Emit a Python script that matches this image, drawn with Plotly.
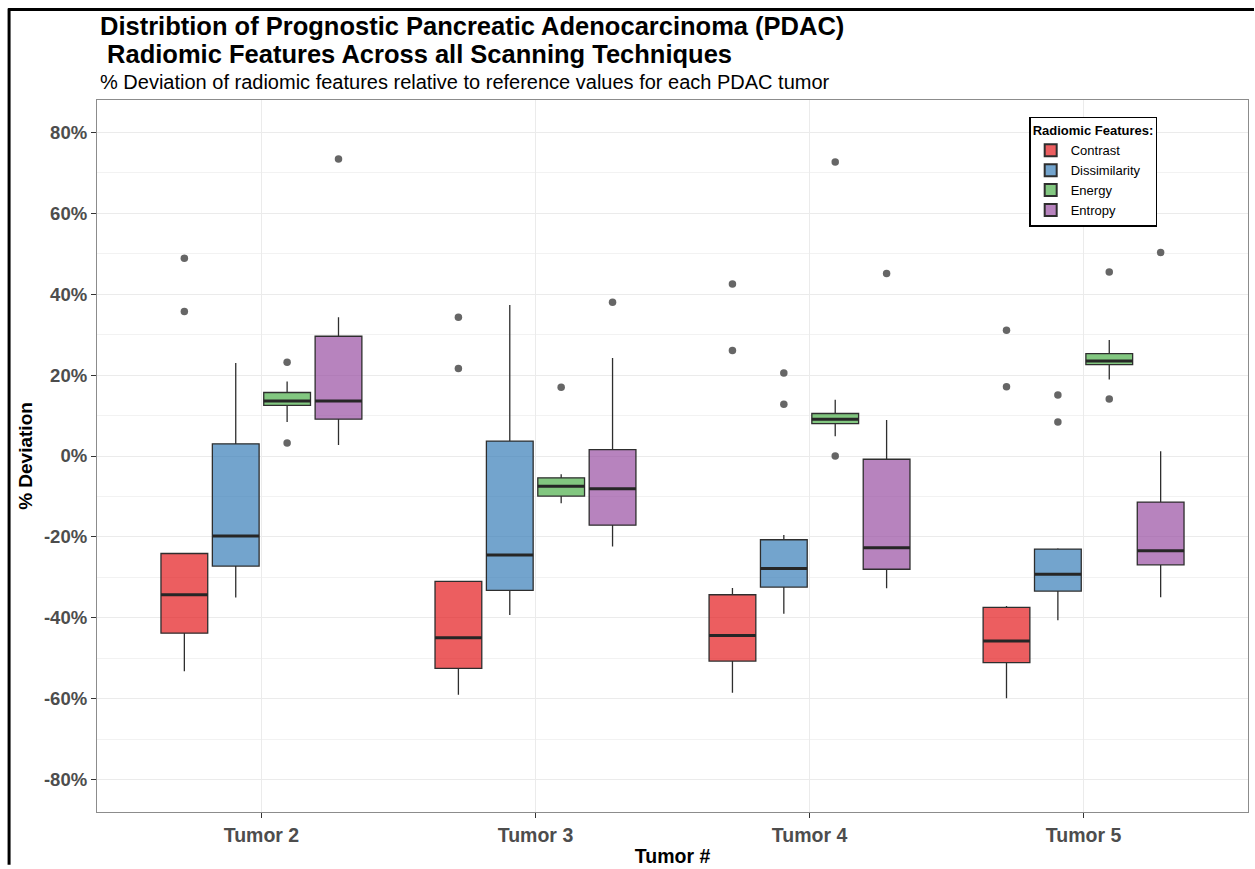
import plotly.graph_objects as go

# ---------------- data (values in %) ----------------
tumors = ["Tumor 2", "Tumor 3", "Tumor 4", "Tumor 5"]
features = ["Contrast", "Dissimilarity", "Energy", "Entropy"]

contrast_q1 = [-43.8, -52.5, -50.7, -51.1]
contrast_median = [-34.3, -44.9, -44.4, -45.7]
contrast_q3 = [-24.1, -31.0, -34.3, -37.4]
contrast_lower = [-53.2, -59.0, -58.5, -59.9]
contrast_upper = [-24.1, -31.0, -32.6, -37.1]
contrast_outliers = [[48.9, 35.7], [34.3, 21.6], [42.5, 26.1], [31.1, 17.1]]

dissimilarity_q1 = [-27.2, -33.2, -32.4, -33.4]
dissimilarity_median = [-19.8, -24.5, -27.8, -29.2]
dissimilarity_q3 = [3.0, 3.7, -20.7, -23.0]
dissimilarity_lower = [-35.0, -39.3, -39.0, -40.6]
dissimilarity_upper = [23.0, 37.3, -19.5, -22.8]
dissimilarity_outliers = [[None], [None], [20.5, 12.8], [15.1, 8.4]]

energy_q1 = [12.5, -9.9, 8.0, 22.6]
energy_median = [13.6, -7.5, 9.1, 23.5]
energy_q3 = [15.7, -5.4, 10.5, 25.3]
energy_lower = [8.4, -11.7, 4.9, 18.9]
energy_upper = [18.4, -4.5, 13.9, 28.7]
energy_outliers = [[23.2, 3.2], [17.0], [72.7, 0.0], [45.5, 14.1]]

entropy_q1 = [9.1, -17.1, -28.0, -26.9]
entropy_median = [13.6, -8.1, -22.7, -23.4]
entropy_q3 = [29.6, 1.6, -0.8, -11.4]
entropy_lower = [2.7, -22.4, -32.7, -34.9]
entropy_upper = [34.3, 24.2, 8.9, 1.2]
entropy_outliers = [[73.4], [38.0], [45.1], [50.3]]

y_tick_values = [-80, -60, -40, -20, 0, 20, 40, 60, 80]
y_tick_labels = ["-80%", "-60%", "-40%", "-20%", "0%", "20%", "40%", "60%", "80%"]

title_line1 = "Distribtion of Prognostic Pancreatic Adenocarcinoma (PDAC)"
title_line2 = " Radiomic Features Across all Scanning Techniques"
subtitle = "% Deviation of radiomic features relative to reference values for each PDAC tumor"

# ---------------- styling ----------------
fill_colors = {
    "Contrast": "rgba(228,26,28,0.7)",
    "Dissimilarity": "rgba(55,126,184,0.7)",
    "Energy": "rgba(77,175,74,0.7)",
    "Entropy": "rgba(152,78,163,0.7)",
}
stats = {
    "Contrast": (contrast_q1, contrast_median, contrast_q3, contrast_lower, contrast_upper, contrast_outliers),
    "Dissimilarity": (dissimilarity_q1, dissimilarity_median, dissimilarity_q3, dissimilarity_lower,
                      dissimilarity_upper, dissimilarity_outliers),
    "Energy": (energy_q1, energy_median, energy_q3, energy_lower, energy_upper, energy_outliers),
    "Entropy": (entropy_q1, entropy_median, entropy_q3, entropy_lower, entropy_upper, entropy_outliers),
}

FONT = "Liberation Sans, Arial, Helvetica, sans-serif"
W, H = 1255, 869
ML, MR, MT, MB = 97, 6, 100, 53

fig = go.Figure()
for f in features:
    q1, med, q3, lo, hi, outs = stats[f]
    fig.add_trace(go.Box(
        name=f, legendgroup=f, offsetgroup=f, orientation="v",
        x=tumors, q1=q1, median=med, q3=q3, lowerfence=lo, upperfence=hi,
        y=outs, boxpoints="outliers", jitter=0, pointpos=0,
        marker=dict(color="rgba(85,85,85,0.9)", size=7.5, line=dict(width=0)),
        fillcolor=fill_colors[f], line=dict(color="#2e2e2e", width=1.3),
        whiskerwidth=0, hoverinfo="skip",
    ))
# thicker median bars (ggplot style), drawn as degenerate boxes in the same slot
for f in features:
    q1, med, q3, lo, hi, outs = stats[f]
    fig.add_trace(go.Box(
        name=f, legendgroup=f, offsetgroup=f, orientation="v", showlegend=False,
        x=tumors, q1=med, median=med, q3=med, lowerfence=med, upperfence=med,
        boxpoints=False, fillcolor="rgba(0,0,0,0)",
        line=dict(color="#262626", width=3), whiskerwidth=0, hoverinfo="skip",
    ))

pw = W - ML - MR
ph = H - MT - MB


def px_x(p):
    return (p - ML) / pw


def px_y(p):
    return (H - MB - p) / ph


fig.update_layout(
    width=W, height=H,
    margin=dict(l=ML, r=MR, t=MT, b=MB, pad=0),
    paper_bgcolor="white", plot_bgcolor="white",
    boxmode="group", boxgap=0.25, boxgroupgap=0.09,
    font=dict(family=FONT, color="#000"),
    showlegend=True,
    legend=dict(
        title=dict(text="<b>Radiomic Features:</b>", font=dict(size=13, color="#000")),
        font=dict(size=13, color="#000"),
        x=px_x(1030), y=px_y(117), xanchor="left", yanchor="top",
        bgcolor="white", bordercolor="#000", borderwidth=1.5,
        tracegroupgap=0, itemsizing="constant",
    ),
    xaxis=dict(
        type="category", range=[-0.6, 3.6],
        showgrid=True, gridcolor="#EBEBEB", gridwidth=1,
        showline=True, linecolor="#8c8c8c", linewidth=1.3, mirror=True,
        ticks="outside", ticklen=5, tickcolor="#333", tickwidth=1,
        tickfont=dict(size=19.5, color="#4D4D4D", family=FONT, weight="bold"),
        title=dict(text="<b>Tumor #</b>", font=dict(size=19.5, color="#000"), standoff=4),
        zeroline=False,
    ),
    yaxis=dict(
        range=[-88, 88],
        tickvals=y_tick_values, ticktext=y_tick_labels,
        showgrid=True, gridcolor="#EBEBEB", gridwidth=1,
        minor=dict(dtick=10, tick0=10, showgrid=True, gridcolor="#F2F2F2", gridwidth=0.6, ticks=""),
        showline=True, linecolor="#8c8c8c", linewidth=1.3, mirror=True,
        ticks="outside", ticklen=5, tickcolor="#333", tickwidth=1,
        tickfont=dict(size=18.5, color="#4D4D4D", family=FONT, weight="bold"),
        title=dict(text="<b>% Deviation</b>", font=dict(size=19, color="#000"), standoff=6),
        zeroline=False,
    ),
    annotations=[
        dict(text="<b>" + title_line1 + "</b>",
             xref="paper", yref="paper", x=px_x(98), y=px_y(25.5), xanchor="left", yanchor="middle",
             align="left", showarrow=False, font=dict(size=25.5, color="#000", family=FONT)),
        dict(text="<b>" + title_line2 + "</b>",
             xref="paper", yref="paper", x=px_x(98), y=px_y(54), xanchor="left", yanchor="middle",
             align="left", showarrow=False, font=dict(size=25.5, color="#000", family=FONT)),
        dict(text=subtitle,
             xref="paper", yref="paper", x=px_x(98), y=px_y(82), xanchor="left", yanchor="middle",
             align="left", showarrow=False, font=dict(size=20, color="#000", family=FONT)),
    ],
    shapes=[
        dict(type="line", xref="paper", yref="paper", x0=px_x(9), x1=px_x(9), y0=px_y(H), y1=px_y(8),
             line=dict(color="#000", width=3)),
        dict(type="line", xref="paper", yref="paper", x0=px_x(8), x1=px_x(W), y0=px_y(9), y1=px_y(9),
             line=dict(color="#000", width=3)),
    ],
)

fig.write_html("out.html")
